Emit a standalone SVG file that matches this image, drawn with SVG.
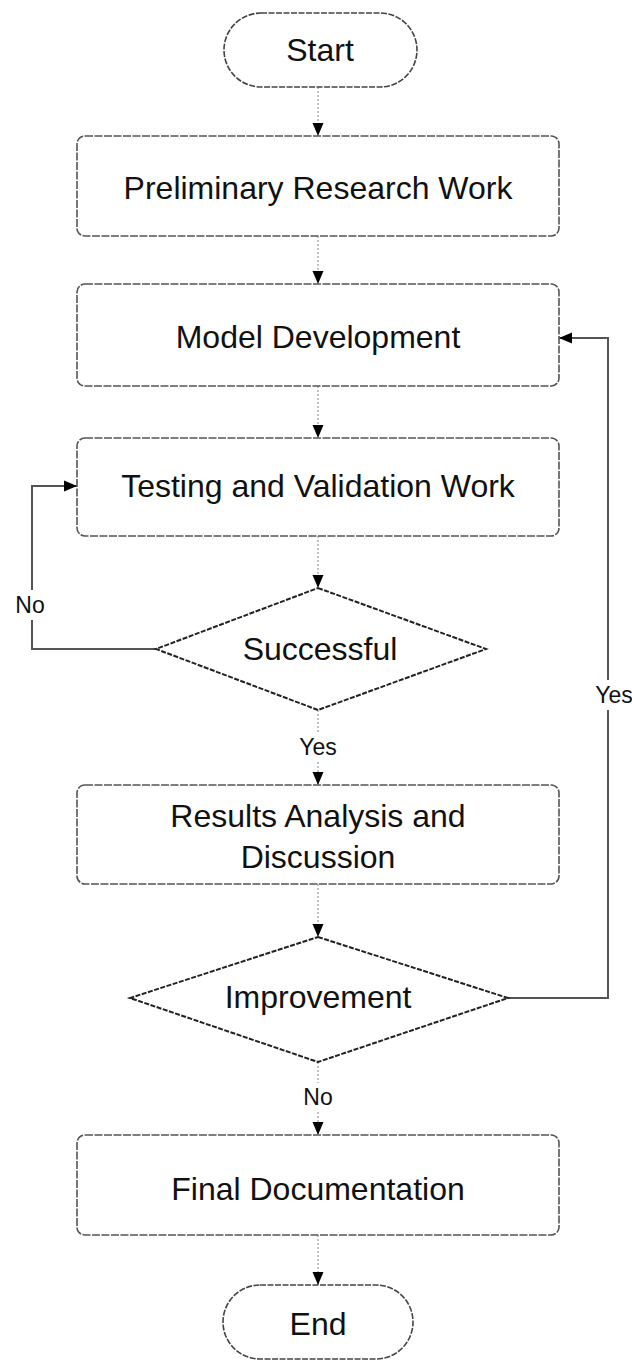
<svg xmlns="http://www.w3.org/2000/svg" width="632" height="1361" viewBox="0 0 632 1361">
<defs>
<style>
.term{fill:#fff;stroke:#444;stroke-width:1.6;stroke-dasharray:6 1.5}
.box{fill:#fff;stroke:#555;stroke-width:1.6;stroke-dasharray:8 1.5}
.dia{fill:#fff;stroke:#222;stroke-width:2;stroke-dasharray:5 1.5}
.t{font-family:"Liberation Sans",Arial,sans-serif;font-size:32px;fill:#111;text-anchor:middle}
.lbl{font-family:"Liberation Sans",Arial,sans-serif;font-size:23px;fill:#111;text-anchor:middle}
.c{fill:none;stroke:#999;stroke-width:1.2;stroke-dasharray:2 2}
.loop{fill:none;stroke:#555;stroke-width:2}
</style>
<marker id="ah" markerUnits="userSpaceOnUse" markerWidth="14" markerHeight="14" refX="13" refY="7" orient="auto">
<path d="M0,1.5 L13,7 L0,12.5 z" fill="#000"/>
</marker>
</defs>
<g id="connectors">
<line class="c" x1="318" y1="87" x2="318" y2="136" marker-end="url(#ah)"/>
<line class="c" x1="318" y1="236" x2="318" y2="284" marker-end="url(#ah)"/>
<line class="c" x1="318" y1="386" x2="318" y2="438" marker-end="url(#ah)"/>
<line class="c" x1="318" y1="536" x2="318" y2="588" marker-end="url(#ah)"/>
<line class="c" x1="318" y1="710" x2="318" y2="733"/>
<line class="c" x1="318" y1="762" x2="318" y2="785" marker-end="url(#ah)"/>
<line class="c" x1="318" y1="884" x2="318" y2="937" marker-end="url(#ah)"/>
<line class="c" x1="318" y1="1062" x2="318" y2="1083"/>
<line class="c" x1="318" y1="1112" x2="318" y2="1135" marker-end="url(#ah)"/>
<line class="c" x1="318" y1="1235" x2="318" y2="1285" marker-end="url(#ah)"/>
<polyline class="loop" points="156,649 32,649 32,620"/>
<polyline class="loop" points="32,590 32,486 77,486" marker-end="url(#ah)"/>
<polyline class="loop" points="508,998 608,998 608,710"/>
<polyline class="loop" points="608,680 608,338 559,338" marker-end="url(#ah)"/>
<text class="lbl" x="30" y="613">No</text>
<text class="lbl" x="614" y="703">Yes</text>
<text class="lbl" x="318" y="755">Yes</text>
<text class="lbl" x="318" y="1105">No</text>
</g>
<g id="start">
<rect class="term" x="224" y="13" width="193" height="74" rx="37" ry="37"/>
<text class="t" x="320" y="61">Start</text>
</g>
<g id="preliminary">
<rect class="box" x="77" y="136" width="482" height="100" rx="8"/>
<text class="t" x="318" y="199">Preliminary Research Work</text>
</g>
<g id="model">
<rect class="box" x="77" y="284" width="482" height="102" rx="8"/>
<text class="t" x="318" y="348">Model Development</text>
</g>
<g id="testing">
<rect class="box" x="77" y="438" width="482" height="98" rx="8"/>
<text class="t" x="318" y="497">Testing and Validation Work</text>
</g>
<g id="successful">
<polygon class="dia" points="318,588 486,649 318,710 156,649"/>
<text class="t" x="320" y="660">Successful</text>
</g>
<g id="results">
<rect class="box" x="77" y="785" width="482" height="99" rx="8"/>
<text class="t" x="318" y="827">Results Analysis and</text>
<text class="t" x="318" y="868">Discussion</text>
</g>
<g id="improvement">
<polygon class="dia" points="318,937 508,998 318,1062 130,998"/>
<text class="t" x="318" y="1008">Improvement</text>
</g>
<g id="final">
<rect class="box" x="77" y="1135" width="482" height="100" rx="8"/>
<text class="t" x="318" y="1200">Final Documentation</text>
</g>
<g id="end">
<rect class="term" x="223" y="1285" width="190" height="74" rx="37" ry="37"/>
<text class="t" x="318" y="1335">End</text>
</g>
</svg>
